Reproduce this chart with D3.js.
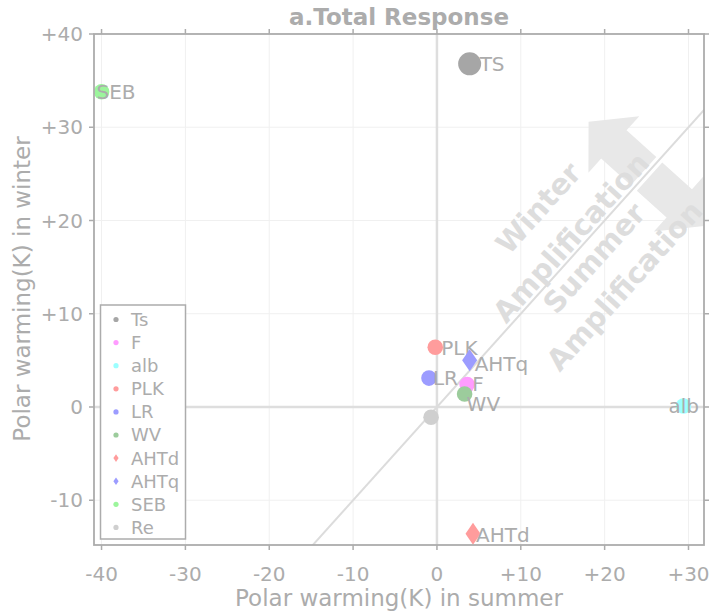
<!DOCTYPE html>
<html>
<head>
<meta charset="utf-8">
<script src="https://cdn.jsdelivr.net/npm/d3@7"></script>
<style>
  body { margin: 0; background: #fff; }
  text { font-family: "DejaVu Sans", sans-serif; }
</style>
</head>
<body>
<div id="canvas"></div>
<script>
// terms of the polar warming decomposition
const names = ["Ts", "F", "alb", "PLK", "LR", "WV", "AHTd", "AHTq", "SEB", "Re"];
const pointLabels = ["TS", "F", "alb", "PLK", "LR", "WV", "AHTd", "AHTq", "SEB", ""];
const summerWarming = [3.9, 3.6, 29.4, -0.2, -0.95, 3.3, 4.3, 3.9, -40.0, -0.7];
const winterWarming = [36.8, 2.4, 0.1, 6.4, 3.1, 1.4, -13.6, 5.0, 33.8, -1.1];
const markers = ["circle", "circle", "circle", "circle", "circle", "circle", "diamond", "diamond", "circle", "circle"];
const colors = ["#a6a6a6", "#ff9cff", "#9cffff", "#ff9c9c", "#9c9cff", "#9ccc9c", "#ff9c9c", "#9c9cff", "#9cf59c", "#cfcfcf"];

const xTicks = [-40, -30, -20, -10, 0, 10, 20, 30];
const yTicks = [-10, 0, 10, 20, 30, 40];

const width = 713;
const height = 613;
const grey = "#acacac";

const svg = d3.select("#canvas").append("svg")
    .attr("width", width)
    .attr("height", height);

const x = d3.scaleLinear().domain([-40.9, 31.85]).range([94, 704]);
const y = d3.scaleLinear().domain([-14.8, 40]).range([545, 34]);

const fmt = d => d > 0 ? "+" + d : String(d);

svg.append("clipPath").attr("id", "plot")
  .append("rect")
    .attr("x", 94).attr("y", 34)
    .attr("width", 610).attr("height", 511);

const plot = svg.append("g").attr("clip-path", "url(#plot)");

// grid
plot.selectAll(".vgrid").data(xTicks).enter().append("line")
    .attr("x1", d => x(d)).attr("x2", d => x(d))
    .attr("y1", 34).attr("y2", 545)
    .style("stroke", "#f0f0f0").style("stroke-width", 1);
plot.selectAll(".hgrid").data(yTicks).enter().append("line")
    .attr("y1", d => y(d)).attr("y2", d => y(d))
    .attr("x1", 94).attr("x2", 704)
    .style("stroke", "#f0f0f0").style("stroke-width", 1);

// zero lines
plot.append("line")
    .attr("x1", x(0)).attr("x2", x(0)).attr("y1", 34).attr("y2", 545)
    .style("stroke", "#dedede").style("stroke-width", 2.5);
plot.append("line")
    .attr("y1", y(0)).attr("y2", y(0)).attr("x1", 94).attr("x2", 704)
    .style("stroke", "#dedede").style("stroke-width", 2.5);

// direction of the 1:1 line in pixels
const ux0 = x(1) - x(0), uy0 = y(1) - y(0);
const ulen = Math.hypot(ux0, uy0);
const u = [ux0 / ulen, uy0 / ulen];
const n = [u[1], -u[0]]; // points to winter side (upper left)
const angle = Math.atan2(u[1], u[0]) * 180 / Math.PI;

function onDiag(t, a, off) {
    return [x(t) + a * u[0] + off * n[0], y(t) + a * u[1] + off * n[1]];
}

// big arrows
const arrowShape = [[-19, 4], [-19, 44], [-38, 44], [0, 78], [38, 44], [19, 44], [19, 4]];
[1, -1].forEach(s => {
    plot.append("polygon")
        .attr("points", arrowShape.map(p => onDiag(25, p[0], s * p[1]).join(",")).join(" "))
        .style("fill", "#e8e8e8");
});

// 1:1 line
plot.append("line")
    .attr("x1", x(-20)).attr("y1", y(-20))
    .attr("x2", x(40)).attr("y2", y(40))
    .style("stroke", "#dcdcdc").style("stroke-width", 2);

// amplification text
const ampText = [["Winter", 58], ["Amplification", 14], ["Summer", -17], ["Amplification", -58]];
ampText.forEach(d => {
    const p = onDiag(17.2, 0, d[1]);
    plot.append("text")
        .attr("transform", `translate(${p[0]},${p[1]}) rotate(${angle})`)
        .attr("text-anchor", "middle")
        .attr("dy", "0.36em")
        .style("font-size", "29px")
        .style("font-weight", "bold")
        .style("fill", "#dddddd")
        .text(d[0]);
});

// points
const data = names.map((name, i) => ({
    name: name, label: pointLabels[i], sx: summerWarming[i], wy: winterWarming[i],
    marker: markers[i], color: colors[i]
}));

const labelNudge = { TS: [10, 0], SEB: [-5, 0], PLK: [6, 0], AHTq: [5, 3], LR: [4, 0],
    F: [5, -1], WV: [2, 10], alb: [-15, 0], AHTd: [3, 1] };

const pts = plot.selectAll(".pt").data(data).enter().append("g");
pts.each(function (d) {
    const g = d3.select(this);
    const r = d.name === "Ts" ? 11.5 : 7.8;
    if (d.marker === "circle") {
        g.append("circle")
            .attr("cx", x(d.sx)).attr("cy", y(d.wy)).attr("r", r)
            .style("fill", d.color);
    } else {
        const cx = x(d.sx), cy = y(d.wy);
        g.append("polygon")
            .attr("points", [[cx, cy - 11], [cx + 7.5, cy], [cx, cy + 11], [cx - 7.5, cy]].join(" "))
            .style("fill", d.color);
    }
    if (d.label) {
        const nd = labelNudge[d.label] || [5, 0];
        g.append("text")
            .attr("x", x(d.sx) + nd[0]).attr("y", y(d.wy) + nd[1])
            .attr("dy", "0.36em")
            .style("font-size", "20px")
            .style("fill", grey)
            .text(d.label);
    }
});

// frame
svg.append("rect")
    .attr("x", 94).attr("y", 34).attr("width", 610).attr("height", 511)
    .style("fill", "none").style("stroke", grey).style("stroke-width", 1.8);

// ticks
const tickLen = 5;
xTicks.forEach(t => {
    svg.append("line").attr("x1", x(t)).attr("x2", x(t)).attr("y1", 545).attr("y2", 545 + tickLen)
        .style("stroke", grey).style("stroke-width", 1.5);
    svg.append("line").attr("x1", x(t)).attr("x2", x(t)).attr("y1", 34).attr("y2", 34 - tickLen)
        .style("stroke", grey).style("stroke-width", 1.5);
});
yTicks.forEach(t => {
    svg.append("line").attr("y1", y(t)).attr("y2", y(t)).attr("x1", 94).attr("x2", 94 - tickLen)
        .style("stroke", grey).style("stroke-width", 1.5);
    svg.append("line").attr("y1", y(t)).attr("y2", y(t)).attr("x1", 704).attr("x2", 704 + tickLen)
        .style("stroke", grey).style("stroke-width", 1.5);
});

svg.selectAll(".xlab").data(xTicks).enter().append("text")
    .attr("x", d => x(d)).attr("y", 574).attr("dy", "0.36em")
    .attr("text-anchor", "middle")
    .style("font-size", "20px").style("fill", grey)
    .text(fmt);
svg.selectAll(".ylab").data(yTicks).enter().append("text")
    .attr("x", 83).attr("y", d => y(d)).attr("dy", "0.36em")
    .attr("text-anchor", "end")
    .style("font-size", "20px").style("fill", grey)
    .text(fmt);

// titles
svg.append("text")
    .attr("x", 399).attr("y", 17).attr("dy", "0.36em")
    .attr("text-anchor", "middle")
    .style("font-size", "23px").style("font-weight", "bold").style("fill", grey)
    .text("a.Total Response");
svg.append("text")
    .attr("x", 399).attr("y", 598).attr("dy", "0.36em")
    .attr("text-anchor", "middle")
    .style("font-size", "23px").style("fill", grey)
    .text("Polar warming(K) in summer");
svg.append("text")
    .attr("transform", "translate(22,289) rotate(-90)")
    .attr("dy", "0.36em")
    .attr("text-anchor", "middle")
    .style("font-size", "23px").style("fill", grey)
    .text("Polar warming(K) in winter");

// legend
const legend = svg.append("g");
legend.append("rect")
    .attr("x", 100.5).attr("y", 305).attr("width", 85).attr("height", 234)
    .style("fill", "#fff").style("stroke", grey).style("stroke-width", 1.5);
const rows = legend.selectAll(".row").data(data).enter().append("g")
    .attr("transform", (d, i) => `translate(116,${319.5 + i * 23.1})`);
rows.each(function (d) {
    const g = d3.select(this);
    if (d.marker === "circle") {
        g.append("circle").attr("r", 2.6).style("fill", d.color);
    } else {
        g.append("polygon").attr("points", "0,-3.8 2.6,0 0,3.8 -2.6,0").style("fill", d.color);
    }
});
rows.append("text")
    .attr("x", 15).attr("dy", "0.36em")
    .style("font-size", "18px").style("fill", grey)
    .text(d => d.name);
</script>
</body>
</html>
